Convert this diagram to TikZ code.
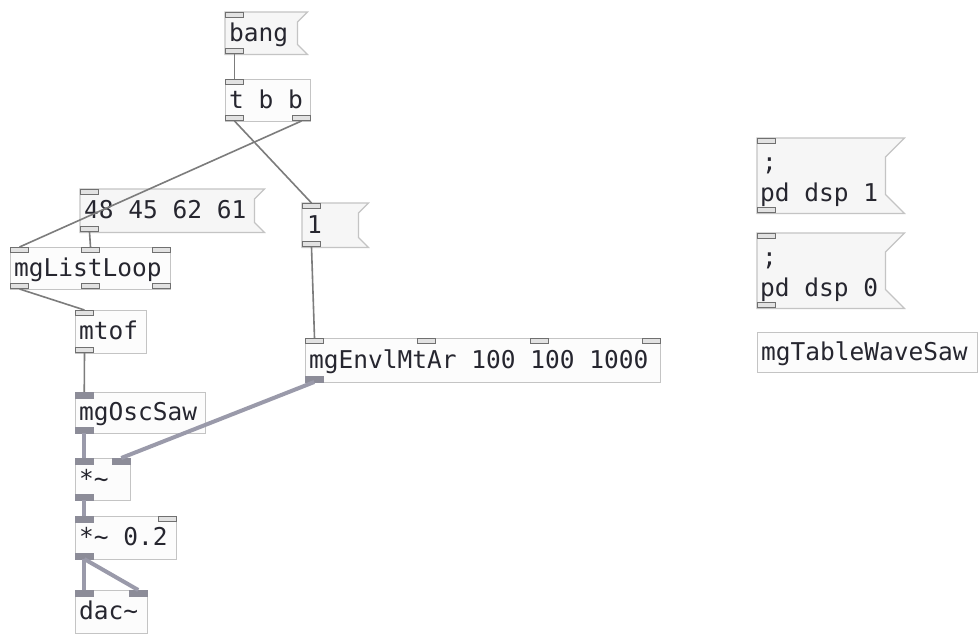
\documentclass[tikz,border=0pt]{standalone}
\usepackage{fontspec}
\setmainfont{DejaVu Sans Mono}
\usetikzlibrary{calc}
\definecolor{boxline}{HTML}{C4C4C4}
\definecolor{boxfill}{HTML}{FCFCFC}
\definecolor{msgfill}{HTML}{F6F6F6}
\definecolor{ioline}{HTML}{707070}
\definecolor{iofill}{HTML}{E2E2E2}
\definecolor{sigfill}{HTML}{8C8C98}
\definecolor{ctlwirecol}{HTML}{7C7C7C}
\definecolor{sigwirecol}{HTML}{9A9AAA}
\definecolor{txtcol}{HTML}{26262F}
\tikzset{
 objbox/.style={draw=boxline, fill=boxfill, line width=1.2pt, inner sep=0pt, rectangle, anchor=north west},
 msgbody/.style={inner sep=0pt, rectangle, anchor=north west},
 msgshape/.style={draw=boxline, fill=msgfill, line width=1.2pt, line join=miter},
 pdtext/.style={inner sep=0pt, anchor=base west, font=\fontsize{24.5}{29}\selectfont, text=txtcol},
 ctlin/.style={draw=ioline, fill=iofill, line width=1pt, inner sep=0pt, minimum width=18pt, minimum height=5pt, rectangle, anchor=north west},
 ctlout/.style={ctlin, anchor=south west},
 sigin/.style={fill=sigfill, draw=sigfill, line width=0.5pt, inner sep=0pt, minimum width=18pt, minimum height=6pt, rectangle, anchor=north west},
 sigout/.style={sigin, anchor=south west},
 ctlwire/.style={draw=ctlwirecol, line width=1.6pt},
 sigwire/.style={draw=sigwirecol, line width=4pt},
}
\newcommand{\pdmsgbox}[6]{%
 \node[msgbody, minimum width=#4pt, minimum height=#5pt] (#1) at (#2,#3) {};
 \path[msgshape] (#1.north west) -- ($(#1.north east)+(#6,0)$) -- ($(#1.north east)+(0,#6)$) -- ($(#1.south east)+(0,-#6)$) -- ($(#1.south east)+(#6,0)$) -- (#1.south west) -- cycle;}
\newcommand{\pdobjbox}[5]{%
 \node[objbox, minimum width=#4pt, minimum height=#5pt] (#1) at (#2,#3) {};}
\begin{document}
\begin{tikzpicture}[x=1pt,y=-1pt]
\useasboundingbox[fill=white] (0,0) rectangle (980,637);
% boxes
\pdmsgbox{bang}{225}{12}{72}{42}{10}
\node[pdtext] (bang-t) at (229,41) {bang};
\pdobjbox{tbb}{225}{79}{85}{42}
\node[pdtext] (tbb-t) at (229,108) {t b b};
\pdmsgbox{m48}{80}{189}{174}{43}{10}
\node[pdtext] (m48-t) at (84,218.5) {48 45 62 61};
\pdmsgbox{m1}{302}{203}{56}{44}{10}
\node[pdtext] (m1-t) at (307,233) {1};
\pdobjbox{mll}{10}{247}{160}{42}
\node[pdtext] (mll-t) at (14,276) {mgListLoop};
\pdobjbox{mtof}{75}{310}{71}{43}
\node[pdtext] (mtof-t) at (79,339.5) {mtof};
\pdobjbox{env}{305}{338}{355}{44}
\node[pdtext] (env-t) at (309,368) {mgEnvlMtAr 100 100 1000};
\pdobjbox{osc}{75}{392}{130}{41}
\node[pdtext] (osc-t) at (79,420.5) {mgOscSaw};
\pdobjbox{mula}{75}{458}{55}{42}
\node[pdtext] (mula-t) at (79,487) {*\textasciitilde};
\pdobjbox{mulb}{75}{516}{101}{43}
\node[pdtext] (mulb-t) at (79,545.5) {*\textasciitilde{} 0.2};
\pdobjbox{dac}{75}{590}{72}{43}
\node[pdtext] (dac-t) at (79,619.5) {dac\textasciitilde};
\pdmsgbox{dspa}{757}{138}{128}{75}{19}
\node[pdtext] (dspa-t1) at (762,170) {;};
\node[pdtext] (dspa-t2) at (760,201) {pd dsp 1};
\pdmsgbox{dspb}{757}{233}{128}{75}{19}
\node[pdtext] (dspb-t1) at (762,265) {;};
\node[pdtext] (dspb-t2) at (760,296) {pd dsp 0};
\pdobjbox{tws}{757}{332}{220}{40}
\node[pdtext] (tws-t) at (761,360) {mgTableWaveSaw};
% inlets / outlets
\node[ctlin] (bang-i) at (225,12) {};
\node[ctlout] (bang-o) at (225,54) {};
\node[ctlin] (tbb-i) at (225,79) {};
\node[ctlout] (tbb-o0) at (225,121) {};
\node[ctlout] (tbb-o1) at (292,121) {};
\node[ctlin] (m48-i) at (80,189) {};
\node[ctlout] (m48-o) at (80,232) {};
\node[ctlin] (m1-i) at (302,203) {};
\node[ctlout] (m1-o) at (302,247) {};
\node[ctlin] (mll-i0) at (10,247) {};
\node[ctlin] (mll-i1) at (81,247) {};
\node[ctlin] (mll-i2) at (152,247) {};
\node[ctlout] (mll-o0) at (10,289) {};
\node[ctlout] (mll-o1) at (81,289) {};
\node[ctlout] (mll-o2) at (152,289) {};
\node[ctlin] (mtof-i) at (75,310) {};
\node[ctlout] (mtof-o) at (75,353) {};
\node[ctlin] (env-i0) at (305,338) {};
\node[ctlin] (env-i1) at (417.3,338) {};
\node[ctlin] (env-i2) at (529.7,338) {};
\node[ctlin] (env-i3) at (642,338) {};
\node[sigout] (env-o) at (305,382) {};
\node[sigin] (osc-i) at (75,392) {};
\node[sigout] (osc-o) at (75,433) {};
\node[sigin] (mula-i0) at (75,458) {};
\node[sigin] (mula-i1) at (112,458) {};
\node[sigout] (mula-o) at (75,500) {};
\node[sigin] (mulb-i0) at (75,516) {};
\node[ctlin] (mulb-i1) at (158,516) {};
\node[sigout] (mulb-o) at (75,559) {};
\node[sigin] (dac-i0) at (75,590) {};
\node[sigin] (dac-i1) at (129,590) {};
\node[ctlin] (dspa-i) at (757,138) {};
\node[ctlout] (dspa-o) at (757,213) {};
\node[ctlin] (dspb-i) at (757,233) {};
\node[ctlout] (dspb-o) at (757,308) {};
% wires
\draw[ctlwire] (bang-o.south) -- (tbb-i.north);
\draw[ctlwire] (tbb-o0.south) -- (m1-i.north);
\draw[ctlwire] (tbb-o1.south) -- (mll-i0.north);
\draw[ctlwire] (m48-o.south) -- (mll-i1.north);
\draw[ctlwire] (mll-o0.south) -- (mtof-i.north);
\draw[ctlwire] (m1-o.south) -- (env-i0.north);
\draw[ctlwire] (mtof-o.south) -- (osc-i.north);
\draw[sigwire] (osc-o.south) -- (mula-i0.north);
\draw[sigwire] (env-o.south) -- (mula-i1.north);
\draw[sigwire] (mula-o.south) -- (mulb-i0.north);
\draw[sigwire] (mulb-o.south) -- (dac-i0.north);
\draw[sigwire] (mulb-o.south) -- (dac-i1.north);
\end{tikzpicture}
\end{document}
